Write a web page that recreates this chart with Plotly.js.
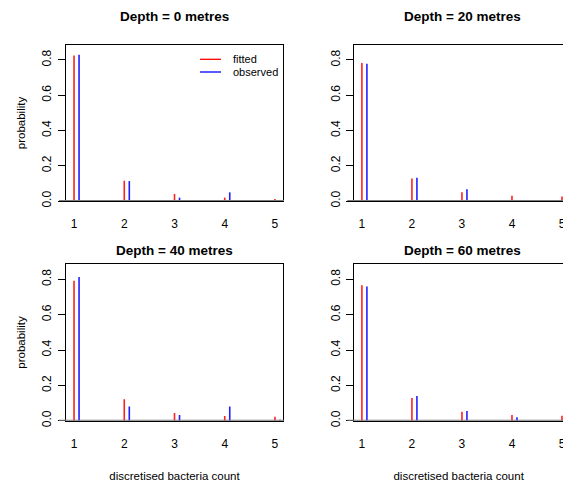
<!DOCTYPE html>
<html>
<head>
<meta charset="utf-8">
<script src="https://cdn.plot.ly/plotly-3.0.1.min.js"></script>
<style>html,body{margin:0;padding:0;background:#fff;}#chart{width:563px;height:482px;}</style>
</head>
<body>
<div id="chart"></div>
<script>
// ---- data ----
const counts = [1, 2, 3, 4, 5];
const depths = ["0", "20", "40", "60"];
const fitted0   = [0.825, 0.115, 0.040, 0.019, 0.011];
const observed0 = [0.830, 0.113, 0.019, 0.049, 0.004];
const fitted20   = [0.783, 0.127, 0.049, 0.030, 0.025];
const observed20 = [0.779, 0.132, 0.066, 0.006, 0.004];
const fitted40   = [0.792, 0.121, 0.043, 0.026, 0.023];
const observed40 = [0.813, 0.081, 0.032, 0.081, 0.006];
const fitted60   = [0.766, 0.128, 0.051, 0.032, 0.028];
const observed60 = [0.760, 0.140, 0.055, 0.019, 0.005];
const tickVals = [1, 2, 3, 4, 5];
const tickText = ["1", "2", "3", "4", "5"];
const yTickVals = [0, 0.2, 0.4, 0.6, 0.8];
const yTickText = ["0.0", "0.2", "0.4", "0.6", "0.8"];

const fittedSets = [fitted0, fitted20, fitted40, fitted60];
const observedSets = [observed0, observed20, observed40, observed60];

const W = 563, H = 482;
const FONT = "Liberation Sans, Arial, Helvetica, sans-serif";
// panel pixel boxes [left, right, top, bottom]
const boxes = [
  [66, 283, 45, 201],
  [354.3, 563, 45, 201],
  [66, 283, 264.3, 420.7],
  [354.3, 563, 264.3, 420.7]
];
const xRanges = [[0.84, 5.16], [0.848, 5.02], [0.84, 5.16], [0.848, 5.02]];
const titleCenterX = [174.5, 462, 174.5, 462];
const titleCenterY = [17, 17, 250, 250];

const traces = [];
const layout = {
  width: W, height: H,
  margin: {l: 0, r: 0, t: 0, b: 0},
  paper_bgcolor: "#fff", plot_bgcolor: "#fff",
  showlegend: false,
  barmode: "overlay",
  font: {family: FONT, size: 12, color: "#000"},
  shapes: [], annotations: []
};

for (let p = 0; p < 4; p++) {
  const sfx = p === 0 ? "" : String(p + 1);
  const xa = "x" + sfx, ya = "y" + sfx;
  traces.push({
    type: "bar", name: "fitted", x: counts, y: fittedSets[p],
    width: 0.032, offset: -0.016, xaxis: xa, yaxis: ya,
    marker: {color: "#ff2020", line: {width: 0}}, hoverinfo: "x+y"
  });
  traces.push({
    type: "bar", name: "observed", x: counts, y: observedSets[p],
    width: 0.032, offset: 0.084, xaxis: xa, yaxis: ya,
    marker: {color: "#2020ff", line: {width: 0}}, hoverinfo: "x+y"
  });
  const b = boxes[p];
  const isLeft = (p % 2 === 0), isBottom = (p >= 2);
  layout["xaxis" + sfx] = {
    domain: [b[0] / W, b[1] / W],
    anchor: ya,
    range: xRanges[p],
    tickmode: "array", tickvals: tickVals, ticktext: tickText,
    ticks: "outside", ticklen: 12, tickcolor: "rgba(0,0,0,0)",
    ticklabeloverflow: "allow",
    tickfont: {family: FONT, size: 12, color: "#000"},
    showgrid: false, zeroline: false,
    showline: true, mirror: true, linecolor: "#000", linewidth: 1,
    fixedrange: true,
    title: isBottom ? {text: "discretised bacteria count", font: {family: FONT, size: 11.5, color: "#000"}, standoff: 24} : {text: ""}
  };
  layout["yaxis" + sfx] = {
    domain: [1 - b[3] / H, 1 - b[2] / H],
    anchor: xa,
    range: [0, 0.885],
    tickmode: "array", tickvals: yTickVals, ticktext: yTickText,
    tickangle: -90,
    ticks: "outside", ticklen: 7, tickcolor: "#000", tickwidth: 1,
    ticklabelstandoff: 2,
    tickfont: {family: FONT, size: 12, color: "#000"},
    showgrid: false, zeroline: false,
    showline: true, mirror: isLeft, linecolor: "#000", linewidth: 1,
    fixedrange: true,
    title: isLeft ? {text: "probability", font: {family: FONT, size: 11.5, color: "#000"}, standoff: 12} : {text: ""}
  };
  // grey baseline at zero
  layout.shapes.push({
    type: "line", xref: "paper", yref: ya,
    x0: (b[0] - 7) / W, x1: Math.min(b[1] + 1, W) / W, y0: 0, y1: 0,
    line: {color: "#7a7a7a", width: 2}
  });
  layout.annotations.push({
    text: "<b>Depth = " + depths[p] + " metres</b>",
    xref: "paper", yref: "paper",
    x: titleCenterX[p] / W, y: 1 - titleCenterY[p] / H,
    xanchor: "center", yanchor: "middle", showarrow: false,
    font: {family: FONT, size: 13.5, color: "#000"}
  });
}

// legend in first panel (drawn by hand)
const legendItems = [["fitted", "#ff0000", 59.3], ["observed", "#0000ff", 72]];
legendItems.forEach(function (it) {
  layout.shapes.push({
    type: "line", xref: "paper", yref: "paper",
    x0: 200 / W, x1: 221 / W, y0: 1 - it[2] / H, y1: 1 - it[2] / H,
    line: {color: it[1], width: 1.3}
  });
  layout.annotations.push({
    text: it[0], xref: "paper", yref: "paper",
    x: 230.5 / W, y: 1 - it[2] / H, xanchor: "left", yanchor: "middle",
    showarrow: false, font: {family: FONT, size: 11, color: "#000"}
  });
});

Plotly.newPlot("chart", traces, layout, {staticPlot: true, displayModeBar: false});
</script>
</body>
</html>
